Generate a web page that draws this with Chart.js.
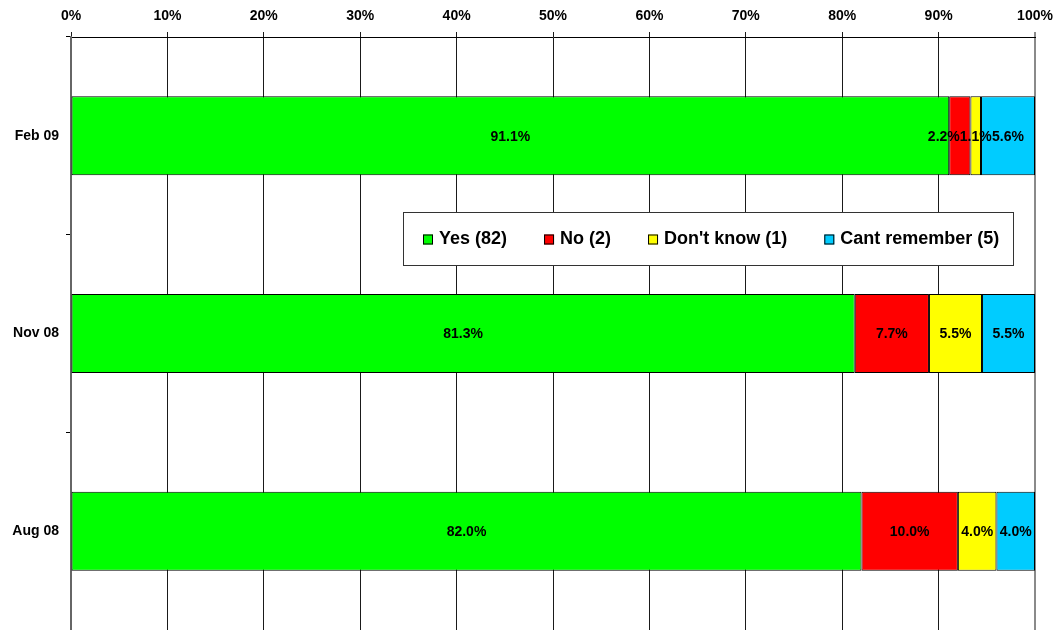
<!DOCTYPE html>
<html>
<head>
<meta charset="utf-8">
<script src="https://cdn.jsdelivr.net/npm/chart.js@4/dist/chart.umd.min.js"></script>
<style>
  html, body { margin: 0; padding: 0; background: #fff; overflow: hidden; }
  #wrap { width: 1058px; height: 630px; }
  canvas { display: block; }
</style>
</head>
<body>
<div id="wrap"><canvas id="c" width="1058" height="630"></canvas></div>
<script>
// Survey periods (top to bottom)
const categories = ['Feb 09', 'Nov 08', 'Aug 08'];

// Share of answers per period, in percent
const yesValues = [91.1, 81.3, 82.0];
const noValues = [2.2, 7.7, 10.0];
const dontKnowValues = [1.1, 5.5, 4.0];
const cantRememberValues = [5.6, 5.5, 4.0];

// Series names as shown in the legend
const seriesNames = ['Yes (82)', 'No (2)', "Don't know (1)", 'Cant remember (5)'];
const seriesColors = ['#00FF00', '#FF0000', '#FFFF00', '#00CCFF'];

const FONT = '"Liberation Sans", Arial, sans-serif';

// Centred value labels inside each segment; a label that would run into
// the next one on the same bar is pushed left.
const segmentLabels = {
  id: 'segmentLabels',
  afterDatasetsDraw(chart) {
    const ctx = chart.ctx;
    ctx.save();
    ctx.font = 'bold 14px ' + FONT;
    ctx.fillStyle = '#000';
    ctx.textAlign = 'center';
    ctx.textBaseline = 'middle';
    const n = chart.data.labels.length;
    for (let i = 0; i < n; i++) {
      const items = [];
      chart.data.datasets.forEach((ds, d) => {
        const el = chart.getDatasetMeta(d).data[i];
        const text = ds.data[i].toFixed(1) + '%';
        const w = ctx.measureText(text).width;
        items.push({ text, w, cx: (el.x + el.base) / 2, cy: el.y });
      });
      for (let k = items.length - 2; k >= 0; k--) {
        const cur = items[k], next = items[k + 1];
        const nextLeft = next.cx - next.w / 2;
        if (cur.cx + cur.w / 2 > nextLeft) cur.cx = nextLeft - cur.w / 2;
      }
      items.forEach(it => ctx.fillText(it.text, it.cx, it.cy + 1));
    }
    ctx.restore();
  }
};

// Boxed legend drawn over the plot area
const boxLegend = {
  id: 'boxLegend',
  afterDraw(chart, args, opts) {
    const ctx = chart.ctx;
    ctx.save();
    ctx.fillStyle = '#fff';
    ctx.fillRect(opts.x, opts.y, opts.w, opts.h);
    ctx.strokeStyle = '#333';
    ctx.lineWidth = 1;
    ctx.strokeRect(opts.x + 0.5, opts.y + 0.5, opts.w, opts.h);
    ctx.font = 'bold 18px ' + FONT;
    ctx.textBaseline = 'middle';
    ctx.textAlign = 'left';
    let x = opts.x + 20;
    const cy = opts.y + opts.h / 2 + 1;
    chart.data.datasets.forEach(ds => {
      const s = 10;
      ctx.fillStyle = ds.backgroundColor;
      ctx.fillRect(x, cy - s / 2, s, s);
      ctx.strokeStyle = '#000';
      ctx.strokeRect(x + 0.5, cy - s / 2 + 0.5, s - 1, s - 1);
      x += s + 6;
      ctx.fillStyle = '#000';
      ctx.fillText(ds.label, x, cy);
      x += ctx.measureText(ds.label).width + 37;
    });
    ctx.restore();
  }
};

const seriesValues = [yesValues, noValues, dontKnowValues, cantRememberValues];

new Chart(document.getElementById('c'), {
  type: 'bar',
  data: {
    labels: categories,
    datasets: seriesValues.map((vals, i) => ({
      label: seriesNames[i],
      data: vals,
      backgroundColor: seriesColors[i],
      borderColor: '#000',
      borderWidth: 1,
      borderSkipped: false,
      barPercentage: 0.4,
      categoryPercentage: 1.0
    }))
  },
  options: {
    indexAxis: 'y',
    responsive: false,
    animation: false,
    devicePixelRatio: 1,
    layout: { autoPadding: false, padding: { left: 0, right: 23, top: 0, bottom: 0 } },
    plugins: {
      legend: { display: false },
      tooltip: { enabled: false },
      boxLegend: { x: 403, y: 212, w: 610, h: 53 }
    },
    scales: {
      x: {
        position: 'top',
        stacked: true,
        min: 0,
        max: 100,
        ticks: {
          stepSize: 10,
          padding: 7,
          color: '#000',
          font: { family: FONT, size: 14, weight: 'bold' },
          callback: v => v + '%'
        },
        grid: {
          color: c => (c.tick && c.tick.value === 100) ? '#8a8a8a' : '#1a1a1a',
          lineWidth: c => (c.tick && c.tick.value === 100) ? 2 : 1,
          tickLength: 5
        },
        border: { color: '#000', width: 1 },
        afterFit: s => { s.height = 37; s.paddingLeft = 0; s.paddingRight = 0; }
      },
      y: {
        stacked: true,
        offset: true,
        ticks: {
          padding: 7,
          color: '#000',
          font: { family: FONT, size: 14, weight: 'bold' }
        },
        grid: {
          offset: true,
          drawOnChartArea: false,
          tickLength: 5,
          color: '#000'
        },
        border: { color: '#666', width: 2 },
        afterFit: s => { s.width = 71; s.paddingTop = 0; s.paddingBottom = 0; }
      }
    }
  },
  plugins: [segmentLabels, boxLegend]
});
</script>
</body>
</html>
